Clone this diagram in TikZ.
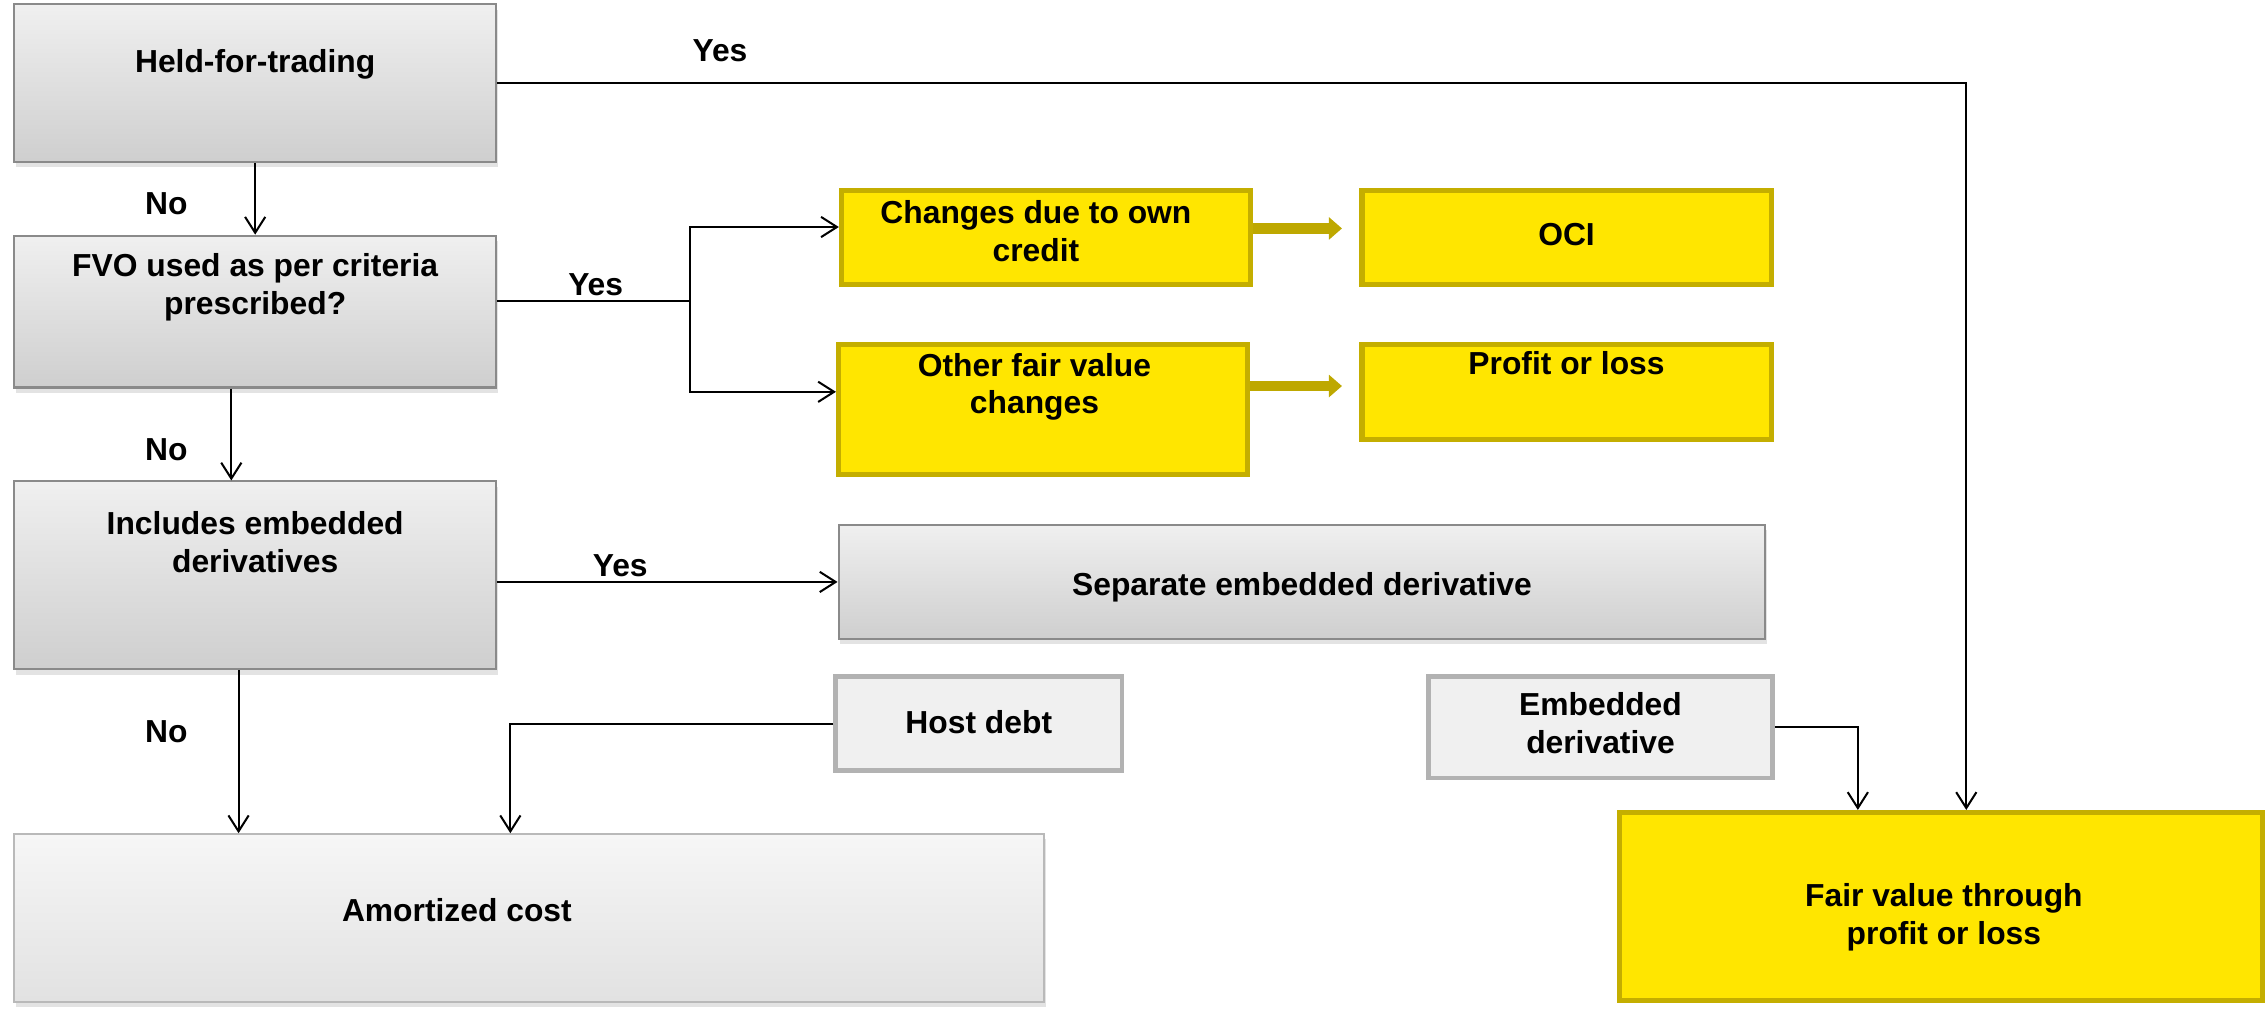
\documentclass[tikz,border=0pt]{standalone}
\usepackage{fontspec}
\setmainfont{Liberation Sans}
\usetikzlibrary{arrows.meta,calc,shadows}

\definecolor{fillyellow}{RGB}{255,230,0}
\definecolor{edgeyellow}{RGB}{196,174,0}
\definecolor{flowolive}{RGB}{190,168,0}
\definecolor{edgegray}{RGB}{138,138,138}
\definecolor{lightedge}{RGB}{185,185,185}
\definecolor{palegray}{RGB}{240,240,240}
\definecolor{framegray}{RGB}{178,178,178}

% box text, moved right by #1 and lifted by #2 without changing the node's size
\newcommand{\boxtext}[3][0pt]{\raisebox{#2}[\height][\depth]{\hspace*{#1}\hspace*{#1}\begin{tabular}{@{}c@{}}#3\end{tabular}}}

\begin{document}
\begin{tikzpicture}[x=0.5pt,y=-0.5pt,
  every node/.style={font=\bfseries\fontsize{11}{13}\selectfont, inner sep=0pt},
  dims/.style 2 args={minimum width=#1*0.5pt, minimum height=#2*0.5pt},
  softshadow/.style={drop shadow={shadow xshift=0.6pt, shadow yshift=-1.8pt, opacity=0.22}},
  graybox/.style={draw=edgegray, line width=0.7pt, top color=gray!12, bottom color=gray!38, softshadow},
  lightbox/.style={draw=lightedge, line width=0.7pt, top color=gray!7, bottom color=gray!23, softshadow},
  flatbox/.style={draw=framegray, line width=1.6pt, fill=palegray},
  yellowbox/.style={draw=edgeyellow, line width=1.8pt, fill=fillyellow},
  wire/.style={draw=black, line width=0.7pt},
  link/.style={wire, -{Straight Barb[length=5.5pt,width=7pt]}},
  fatarrow/.style={draw=flowolive, line width=3.5pt, -{Triangle[length=4.5pt,width=7.5pt]}, shorten >=6pt}
]
\useasboundingbox (0,0) rectangle (1568,698);

% decision column
\node[graybox, dims={333}{109}] (hft) at (176.5,57.5) {\boxtext{6.25pt}{Held-for-trading}};
\node[graybox, dims={333}{105}] (fvo) at (176.5,215.5) {\boxtext{8.25pt}{FVO used as per criteria\\prescribed?}};
\node[graybox, dims={333}{130}] (inc) at (176.5,398) {\boxtext{10.25pt}{Includes embedded\\derivatives}};

% fair value option branch
\node[yellowbox, dims={283}{65}] (chg) at (723.5,164.5) {\boxtext[-3.5pt]{1pt}{Changes due to own\\credit}};
\node[yellowbox, dims={283}{65}] (oci) at (1083.5,164.5) {\boxtext{0pt}{OCI}};
\node[yellowbox, dims={283}{90}] (oth) at (721.5,283) {\boxtext[-3pt]{7.5pt}{Other fair value\\changes}};
\node[yellowbox, dims={283}{66}] (pl) at (1083.5,271) {\boxtext{8.5pt}{Profit or loss}};

% embedded derivative branch
\node[graybox, dims={641}{79}] (sep) at (900.5,402.5) {\boxtext{-2.25pt}{Separate embedded derivative}};
\node[flatbox, dims={198}{65}] (host) at (677,500.5) {\boxtext{-0.75pt}{Host debt}};
\node[flatbox, dims={238}{70}] (embd) at (1107,503) {\boxtext{0pt}{Embedded\\derivative}};

% outcomes
\node[lightbox, dims={712}{116}] (amort) at (366,635) {\boxtext[-25pt]{1.5pt}{Amortized cost}};
\node[yellowbox, dims={445}{130}] (fvtpl) at (1342.5,627) {\boxtext[1pt]{-4pt}{Fair value through\\profit or loss}};

% connectors
\draw[link] (hft) -- (fvo);
\draw[link] (hft.east) -| ($(fvtpl.north)+(17.5,0)$);

\coordinate (split) at (477,208);
\draw[wire] (split -| fvo.east) -- (split);
\draw[link] (split) |- ($(chg.west)+(0,-7.5)$);
\draw[link] (split) |- ($(oth.west)+(0,-12)$);

\draw[fatarrow] ($(chg.east)+(0,-6.5)$) coordinate (ca) -- (ca -| oci.west);
\draw[fatarrow] ($(oth.east)+(0,-16)$) coordinate (oa) -- (oa -| pl.west);

\draw[link] ($(fvo.south)+(-16.5,0)$) coordinate (fa) -- (fa |- inc.north);
\draw[link] (inc.east |- sep.west) -- (sep.west);
\draw[link] ($(inc.south)+(-11.5,0)$) coordinate (ia) -- (ia |- amort.north);
\draw[link] (host.west) -| ($(amort.north)+(-13,0)$);
\draw[link] (embd.east) -| ($(fvtpl.north)+(-57.5,0)$);

% branch labels
\node (yes1) at (498,35) {Yes};
\node (yes2) at (412,197) {Yes};
\node (yes3) at (429,391) {Yes};
\node (no1) at (115,141) {No};
\node (no2) at (115,311) {No};
\node (no3) at (115,506) {No};
\end{tikzpicture}
\end{document}
